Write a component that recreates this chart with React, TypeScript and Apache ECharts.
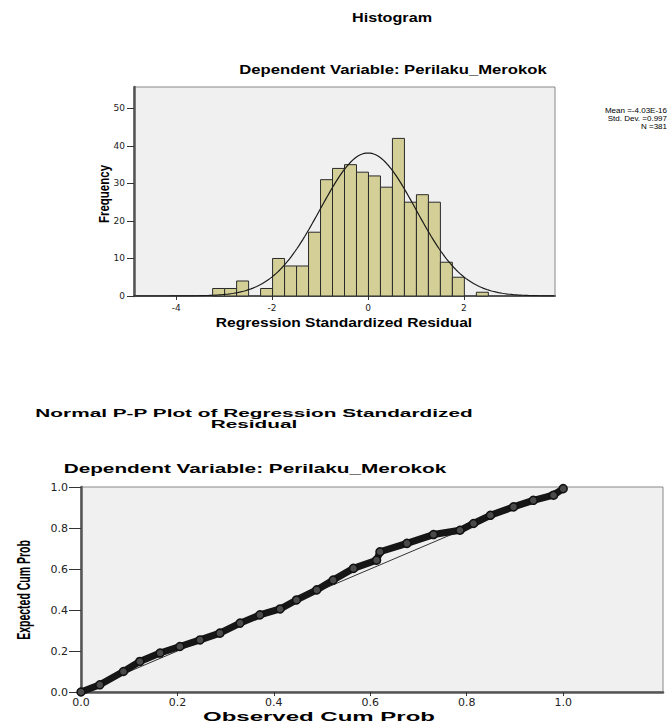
import React, { useEffect, useRef } from "react";
import * as echarts from "echarts";

// Histogram of regression standardized residuals
const binLeft = [-3.24, -2.99, -2.74, -2.49, -2.24, -1.99, -1.74, -1.49, -1.24, -0.99, -0.74, -0.49, -0.24, 0.01, 0.26, 0.51, 0.76, 1.01, 1.26, 1.51, 1.76, 2.01, 2.26];
const binCounts = [2, 2, 4, 0, 2, 10, 8, 8, 17, 31, 34, 35, 33, 32, 29, 42, 25, 27, 25, 9, 5, 0, 1];
const binWidth = 0.25;
const histXTicks = [-4, -2, 0, 2];
const histYTicks = [0, 10, 20, 30, 40, 50];

// Statistics shown in the legend (used for the fitted normal curve)
const statMean = -4.03e-16;
const statSd = 0.997;
const statN = 381;
const legendLines = ["Mean =-4.03E-16", "Std. Dev. =0.997", "N =381"];

// Normal P-P plot
const ppObserved = [0.0, 0.039, 0.088, 0.122, 0.164, 0.205, 0.247, 0.288, 0.33, 0.371, 0.413, 0.447, 0.489, 0.523, 0.565, 0.613, 0.62, 0.676, 0.731, 0.786, 0.814, 0.849, 0.897, 0.938, 0.98, 1.0];
const ppExpected = [0.0, 0.035, 0.1, 0.149, 0.19, 0.222, 0.254, 0.287, 0.336, 0.376, 0.405, 0.449, 0.498, 0.546, 0.603, 0.643, 0.684, 0.725, 0.768, 0.789, 0.822, 0.862, 0.903, 0.935, 0.96, 0.992];
const ppTicks = [0, 0.2, 0.4, 0.6, 0.8, 1.0];

const HX_MIN = -4.88;
const HX_MAX = 3.9;

function normalCurve() {
  const pts: number[][] = [];
  const k = (statN * binWidth) / (statSd * Math.sqrt(2 * Math.PI));
  for (let x = HX_MIN; x <= HX_MAX + 1e-9; x += 0.04) {
    const z = (x - statMean) / statSd;
    pts.push([x, k * Math.exp(-0.5 * z * z)]);
  }
  return pts;
}

const SANS = '"Liberation Sans", Arial, sans-serif';
const TICKFONT = '"DejaVu Sans", sans-serif';

export default function App() {
  const ref = useRef<HTMLDivElement>(null);
  useEffect(() => {
    if (!ref.current) return;
    const chart = echarts.init(ref.current, undefined, { renderer: "svg" });
    const histData = binLeft
      .map((l, i) => [l, l + binWidth, binCounts[i]])
      .filter((d) => d[2] > 0);

    const title = (text: string, x: number, y: number, size: number, sx: number) => ({
      type: "text",
      x,
      y,
      scaleX: sx,
      style: {
        text,
        fill: "#000",
        font: `bold ${size}px ${SANS}`,
        textAlign: "center",
        textVerticalAlign: "middle",
      },
    });
    const vtitle = (text: string, x: number, y: number, size: number, sy: number) => ({
      type: "text",
      x,
      y,
      rotation: Math.PI / 2,
      scaleY: sy,
      style: {
        text,
        fill: "#000",
        font: `bold ${size}px ${SANS}`,
        textAlign: "center",
        textVerticalAlign: "middle",
      },
    });

    chart.setOption({
      animation: false,
      backgroundColor: "#ffffff",
      grid: [
        { left: 134, top: 87, width: 421, height: 209, show: true, backgroundColor: "#f0f0f0", borderColor: "#888", borderWidth: 1 },
        { left: 81, top: 487, width: 582, height: 205, show: true, backgroundColor: "#f0f0f0", borderColor: "#888", borderWidth: 1 },
      ],
      xAxis: [
        {
          type: "value", gridIndex: 0, min: HX_MIN, max: HX_MAX,
          axisLine: { show: true, onZero: false, lineStyle: { color: "#555", width: 2 } },
          axisTick: { show: true, customValues: histXTicks, length: 4, lineStyle: { color: "#333" } },
          axisLabel: { customValues: histXTicks, fontSize: 9, color: "#222", margin: 7, fontFamily: TICKFONT },
          splitLine: { show: false },
        },
        {
          type: "value", gridIndex: 1, min: 0, max: 1.207,
          axisLine: { show: true, onZero: false, lineStyle: { color: "#555", width: 2.5 } },
          axisTick: { show: true, customValues: ppTicks, length: 4, lineStyle: { color: "#333" } },
          axisLabel: { customValues: ppTicks, fontSize: 11, color: "#222", margin: 5, fontFamily: TICKFONT, formatter: (v: number) => v.toFixed(1) },
          splitLine: { show: false },
        },
      ],
      yAxis: [
        {
          type: "value", gridIndex: 0, min: 0, max: 55.7,
          axisLine: { show: true, onZero: false, lineStyle: { color: "#555", width: 2.5 } },
          axisTick: { show: true, customValues: histYTicks, length: 7, lineStyle: { color: "#333" } },
          axisLabel: { customValues: histYTicks, fontSize: 9, color: "#222", margin: 9, fontFamily: TICKFONT },
          splitLine: { show: false },
        },
        {
          type: "value", gridIndex: 1, min: 0, max: 1,
          axisLine: { show: true, onZero: false, lineStyle: { color: "#555", width: 2.5 } },
          axisTick: { show: true, customValues: ppTicks, length: 12, lineStyle: { color: "#333" } },
          axisLabel: { customValues: ppTicks, fontSize: 11, color: "#222", margin: 13, fontFamily: TICKFONT, formatter: (v: number) => v.toFixed(1) },
          splitLine: { show: false },
        },
      ],
      series: [
        {
          type: "custom",
          xAxisIndex: 0,
          yAxisIndex: 0,
          data: histData,
          encode: { x: [0, 1], y: 2 },
          renderItem: (params: any, api: any) => {
            const p0 = api.coord([api.value(0), api.value(2)]);
            const p1 = api.coord([api.value(1), 0]);
            return {
              type: "rect",
              shape: { x: p0[0], y: p0[1], width: p1[0] - p0[0], height: p1[1] - p0[1] },
              style: { fill: "#d4cf97", stroke: "#2a2a2a", lineWidth: 1 },
            };
          },
        },
        {
          type: "line",
          xAxisIndex: 0,
          yAxisIndex: 0,
          data: normalCurve(),
          showSymbol: false,
          lineStyle: { color: "#1a1a1a", width: 1.2 },
          z: 5,
        },
        {
          type: "line",
          xAxisIndex: 1,
          yAxisIndex: 1,
          data: [[0, 0], [1, 1]],
          showSymbol: false,
          lineStyle: { color: "#333", width: 1 },
        },
        {
          type: "line",
          xAxisIndex: 1,
          yAxisIndex: 1,
          data: ppObserved.map((x, i) => [x, ppExpected[i]]),
          symbol: "circle",
          symbolSize: 8,
          itemStyle: { color: "#4a4a4a", borderColor: "#111", borderWidth: 1.5 },
          lineStyle: { color: "#161616", width: 7 },
          z: 4,
        },
      ],
      graphic: [
        title("Histogram", 392, 18, 12, 1.35),
        title("Dependent Variable: Perilaku_Merokok", 393, 70, 12, 1.39),
        title("Regression Standardized Residual", 344, 323, 12, 1.3),
        vtitle("Frequency", 104, 194, 11.5, 1.35),
        ...legendLines.map((t, i) => ({
          type: "text", x: 667, y: 110 + i * 8,
          style: { text: t, fill: "#000", font: `8px ${SANS}`, textAlign: "right", textVerticalAlign: "middle" },
        })),
        title("Normal P-P Plot of Regression Standardized", 254, 413, 11, 1.89),
        title("Residual", 254, 424, 11, 1.89),
        title("Dependent Variable: Perilaku_Merokok", 255, 469, 12, 1.73),
        title("Observed Cum Prob", 319, 717, 12, 2.0),
        vtitle("Expected Cum Prob", 23, 590, 10.5, 1.8),
      ],
    });
    return () => chart.dispose();
  }, []);
  return <div ref={ref} style={{ position: "absolute", left: 0, top: 0, width: 672, height: 726 }} />;
}
